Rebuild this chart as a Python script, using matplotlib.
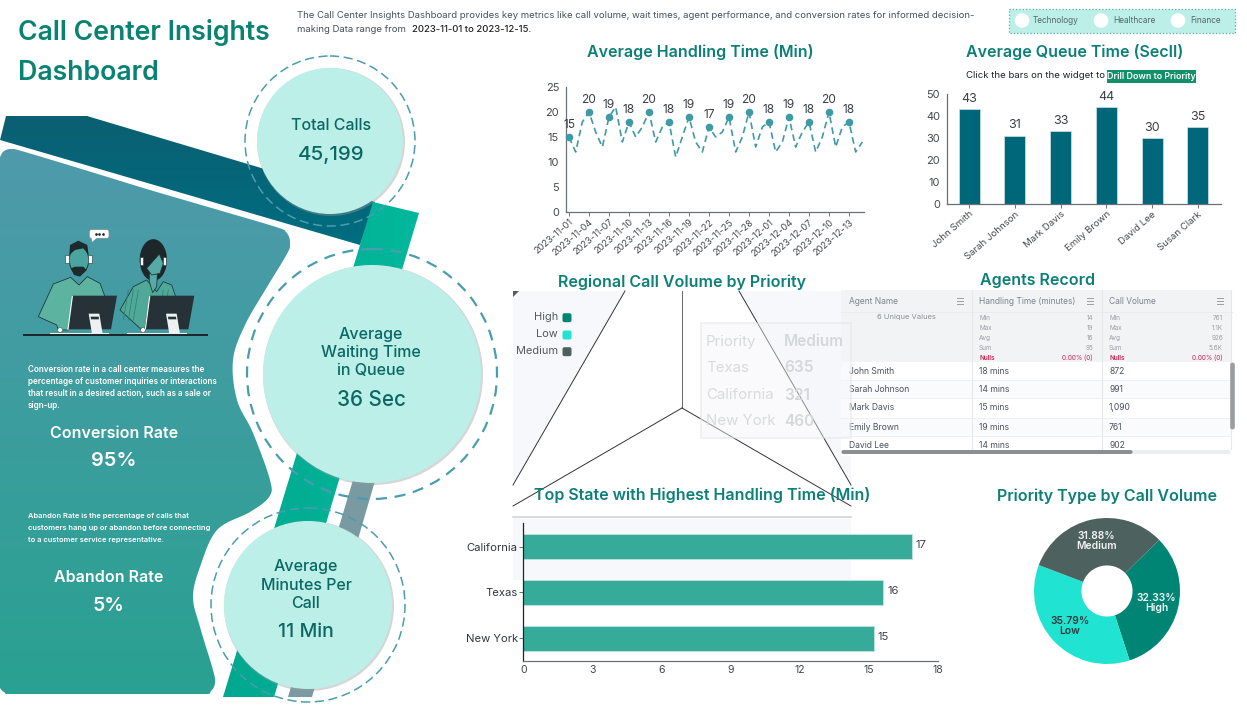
import numpy as np
import matplotlib
matplotlib.use('Agg')
from matplotlib import pyplot as plt
from matplotlib.patches import Circle, Polygon, Rectangle, FancyBboxPatch, Ellipse
from matplotlib.colors import LinearSegmentedColormap

plt.rcParams['font.family'] = ['Inter', 'DejaVu Sans']

W, H = 1247, 707

# data
line_dates = ['2023-11-01', '2023-11-04', '2023-11-07', '2023-11-10', '2023-11-13',
              '2023-11-16', '2023-11-19', '2023-11-22', '2023-11-25', '2023-11-28',
              '2023-12-01', '2023-12-04', '2023-12-07', '2023-12-10', '2023-12-13']
handling = [15, 12, 18, 20, 16, 13, 19, 21, 14, 18, 15, 17, 20, 14, 17, 18, 11, 15, 19, 14, 12, 17, 15,
            16, 19, 12, 15, 20, 13, 17, 18, 12, 14, 19, 13, 16, 18, 12, 15, 20, 13, 17, 18, 12, 14]

agents = ['John Smith', 'Sarah Johnson', 'Mark Davis', 'Emily Brown', 'David Lee', 'Susan Clark']
queue_time = [43, 31, 33, 44, 30, 35]

states = ['California', 'Texas', 'New York']
state_time = [16.87, 15.63, 15.22]

priorities = ['High', 'Low', 'Medium']
priority_share = [32.33, 35.79, 31.88]
priority_colors = ['#008575', '#20e3d2', '#4d625e']

tooltip_rows = [('Priority', 'Medium'), ('Texas', '635'), ('California', '321'), ('New York', '460')]

table_names = ['John Smith', 'Sarah Johnson', 'Mark Davis', 'Emily Brown', 'David Lee']
table_time = ['18 mins', '14 mins', '15 mins', '19 mins', '14 mins']
table_volume = ['872', '991', '1,090', '761', '902']
time_stats = [('Min', '14'), ('Max', '19'), ('Avg', '16'), ('Sum', '95')]
volume_stats = [('Min', '761'), ('Max', '1.1K'), ('Avg', '926'), ('Sum', '5.6K')]

TITLE = '#0c8078'
CIRC = '#bcefe8'
CTEXT = '#0b6763'
DASH = '#4a9db0'


def px(size):
    return size * 0.72


def ax_px(x0, y0, x1, y1):
    a = fig.add_axes([x0 / W, 1 - y1 / H, (x1 - x0) / W, (y1 - y0) / H])
    a.patch.set_alpha(0)
    return a


def smooth(points, n=14):
    # catmull-rom through the outline points
    p = np.array(points, dtype=float)
    p = np.vstack([p[0], p, p[-1]])
    out = []
    for i in range(1, len(p) - 2):
        for t in np.linspace(0, 1, n, endpoint=False):
            out.append(0.5 * (2 * p[i] + (p[i + 1] - p[i - 1]) * t
                              + (2 * p[i - 1] - 5 * p[i] + 4 * p[i + 1] - p[i + 2]) * t ** 2
                              + (3 * p[i] - p[i - 1] - 3 * p[i + 1] + p[i + 2]) * t ** 3))
    out.append(p[-2])
    return np.array(out)


def grad_fill(points, c1, c2, box, vertical=True, z=1):
    cm = LinearSegmentedColormap.from_list('g', [c1, c2])
    g = np.linspace(0, 1, 200)
    g = g[:, None] if vertical else g[None, :]
    im = bg.imshow(g, cmap=cm, extent=(box[0], box[2], box[3], box[1]), aspect='auto', zorder=z)
    poly = Polygon(points, closed=True, transform=bg.transData, fc='none', ec='none')
    bg.add_patch(poly)
    im.set_clip_path(poly)
    bg.set_xlim(0, W)
    bg.set_ylim(H, 0)


fig = plt.figure(figsize=(W / 100, H / 100), dpi=100, facecolor='white')
bg = fig.add_axes([0, 0, 1, 1])
bg.set_xlim(0, W)
bg.set_ylim(H, 0)
bg.axis('off')

# ribbons behind the circles
grad_fill([(6, 116), (87, 116), (375, 202), (360, 245), (0, 140)], '#0b5f72', '#006d80', (0, 116, 375, 245), z=1)
grad_fill([(373, 202), (419, 213), (274, 697), (223, 697)], '#00a88f', '#03b89c', (223, 202, 419, 697), vertical=False, z=2)
bg.add_patch(Polygon([(362, 450), (384, 450), (312, 697), (288, 697)], fc='#7a9aa2', ec='none', zorder=2))

# left panel
outline = [(0, 157), (4, 151), (12, 149), (25, 152), (88, 171), (150, 190), (215, 209), (276, 227), (286, 232), (290, 241), (288, 252),
           (267, 287), (245, 325), (233, 360), (237, 400), (253, 433), (270, 480), (269, 497), (250, 512), (217, 530), (200, 567),
           (193, 597), (200, 627), (213, 670), (215, 683), (211, 691), (203, 694.5), (150, 694.5), (80, 694.5), (14, 694.5), (4, 692), (0, 688)]
grad_fill(smooth(outline), '#4f9aab', '#29a191', (0, 149, 290, 694), z=3)


def z4(pts):
    return [(x / 3, 100 + y / 3) for x, y in pts]


def shape(pts, fc, ec='none', lw=0.6, z=5):
    bg.add_patch(Polygon(z4(pts), closed=True, fc=fc, ec=ec, lw=lw, zorder=z))


# illustration of the two agents
OUT = '#1f3a3c'
shape([(115, 650), (160, 552), (212, 532), (237, 555), (262, 530), (300, 550), (315, 590), (220, 590), (205, 690), (175, 690), (170, 675)], '#5cb3a0', OUT)
shape([(360, 630), (400, 560), (440, 540), (470, 575), (490, 545), (515, 555), (527, 590), (450, 590), (435, 685), (420, 685)], '#4fa898', OUT)
for sx in (385, 400, 415, 490, 505):
    bg.plot([sx / 3, (sx - 15) / 3], [100 + 570 / 3, 100 + 660 / 3], color='#2f7d70', lw=0.5, zorder=6)
# man
bg.add_patch(Ellipse((237 / 3, 100 + 480 / 3), 58 / 3, 85 / 3, fc='#4ba59f', ec=OUT, lw=0.7, zorder=6))
shape([(208, 465), (210, 435), (235, 422), (262, 435), (266, 465), (250, 445), (225, 450)], '#1d2b2d', z=7)
shape([(212, 505), (225, 500), (250, 500), (260, 510), (240, 530), (222, 525)], '#1d2b2d', z=7)
bg.add_patch(Rectangle((196 / 3, 100 + 465 / 3), 10 / 3, 24 / 3, fc='#f4f6f6', ec=OUT, lw=0.4, zorder=8))
bg.add_patch(Rectangle((265 / 3, 100 + 465 / 3), 10 / 3, 24 / 3, fc='#f4f6f6', ec=OUT, lw=0.4, zorder=8))
bg.add_patch(FancyBboxPatch((270 / 3, 100 + 391 / 3), 55 / 3, 22 / 3, boxstyle='round,pad=0.6,rounding_size=2', fc='white', ec='#888888', lw=0.4, zorder=8))
shape([(275, 414), (290, 414), (276, 426)], 'white', z=8)
bg.plot([288 / 3, 298 / 3, 308 / 3], [100 + 403 / 3] * 3, ls='none', marker='o', ms=0.9, color='#222222', zorder=9)
# woman
bg.add_patch(Ellipse((460 / 3, 100 + 480 / 3), 82 / 3, 125 / 3, fc='#1d2629', ec='none', zorder=6))
shape([(440, 505), (478, 462), (490, 490), (480, 520), (455, 525)], '#57aaa5', OUT, z=7)
shape([(448, 520), (472, 522), (470, 560), (458, 578), (448, 545)], '#57aaa5', OUT, z=6)
bg.add_patch(Rectangle((419 / 3, 100 + 470 / 3), 9 / 3, 24 / 3, fc='#f4f6f6', ec=OUT, lw=0.4, zorder=8))
bg.add_patch(Rectangle((489 / 3, 100 + 470 / 3), 9 / 3, 24 / 3, fc='#f4f6f6', ec=OUT, lw=0.4, zorder=8))
# monitors and desk
for off in (0, 232):
    shape([(218 + off, 587), (351 + off, 587), (333 + off, 688), (204 + off, 688)], '#263238', z=9)
    bg.plot([(217 + off) / 3, (204 + off) / 3], [100 + 590 / 3, 100 + 688 / 3], color='white', lw=0.8, zorder=10)
    shape([(266 + off, 641), (298 + off, 641), (308 + off, 702), (276 + off, 702)], '#eef1f1', z=10)
    shape([(272 + off, 650), (296 + off, 650), (297 + off, 658), (273 + off, 658)], '#263238', z=11)
bg.add_patch(Rectangle((150 / 3, 100 + 698 / 3), 177 / 3, 6 / 3, fc='#eef1f1', zorder=9))
bg.add_patch(Rectangle((381 / 3, 100 + 698 / 3), 180 / 3, 6 / 3, fc='#eef1f1', zorder=9))
bg.add_patch(Rectangle((68 / 3, 100 + 703 / 3), 556 / 3, 6 / 3, fc='#1d2629', zorder=10))
bg.add_patch(Circle((60, 330), 2.4, fc='white', ec=OUT, lw=0.3, zorder=11))
bg.add_patch(Circle((143, 330), 2.4, fc='white', ec=OUT, lw=0.3, zorder=11))

# circles
for (cx, cy, r, rd, dlw, dash) in [(330, 141, 73, 85, 1.1, (6, 3)), (372, 374, 109, 125, 1.6, (5, 3.5)), (308, 605, 84, 97, 1.1, (6, 3))]:
    bg.add_patch(Circle((cx + 1, cy + 1), r + 1, fc='#9a9a9a', ec='none', alpha=0.4, zorder=12))
    bg.add_patch(Circle((cx, cy), r, fc=CIRC, ec='none', zorder=13))
    bg.add_patch(Circle((cx, cy), rd, fc='none', ec=DASH, lw=dlw, ls=(0, dash), zorder=14))


def label(x, y, s, size, color=CTEXT, weight='medium', ha='center', z=20):
    return bg.text(x, y + 1, s, fontsize=px(size), color=color, fontweight=weight, ha=ha, va='center', zorder=z)


label(331, 125, 'Total Calls', 16)
label(331, 154, '45,199', 20.5)
for yy, s in zip((334, 352, 370), ('Average', 'Waiting Time', 'in Queue')):
    label(371, yy, s, 16)
label(371, 399, '36 Sec', 20.6)
for yy, s in zip((566, 585, 603), ('Average', 'Minutes Per', 'Call')):
    label(306, yy, s, 16)
label(306, 631, '11 Min', 19.5)

# left panel text
para1 = ['Conversion rate in a call center measures the', 'percentage of customer inquiries or interactions',
         'that result in a desired action, such as a sale or', 'sign-up.']
para2 = ['Abandon Rate is the percentage of calls that', 'customers hang up or abandon before connecting',
         'to a customer service representative.']
for yy, s in zip((369, 381, 393, 405), para1):
    label(28, yy, s, 8.1, 'white', 'semibold', 'left')
for yy, s in zip((515, 527, 539), para2):
    label(28, yy, s, 7.5, 'white', 'semibold', 'left')
label(114, 432, 'Conversion Rate', 16, 'white', 'semibold')
label(114, 460, '95%', 20, 'white', 'semibold')
label(109, 577, 'Abandon Rate', 16, 'white', 'semibold')
label(109, 605, '5%', 19.5, 'white', 'semibold')

# header
label(18, 32, 'Call Center Insights', 26.7, '#088371', 'semibold', 'left')
label(18, 72, 'Dashboard', 26.7, '#088371', 'semibold', 'left')
label(297, 15, 'The Call Center Insights Dashboard provides key metrics like call volume, wait times, agent performance, and conversion rates for informed decision-',
      9.54, '#45505a', 'normal', 'left')
label(297, 29, 'making Data range from', 9.54, '#45505a', 'normal', 'left')
label(412, 29, '2023-11-01 to 2023-12-15.', 9.54, '#222222', 'medium', 'left')

# radio group
bg.add_patch(Rectangle((1009, 9), 226, 24, fc=CIRC, ec='#58b0a8', lw=0.9, ls=':', zorder=2))
for cx, tx, s in zip((1022, 1101, 1178), (1033, 1113, 1190), ('Technology', 'Healthcare', 'Finance')):
    bg.add_patch(Circle((cx, 20.5), 7.3, fc='white', ec='none', zorder=3))
    label(tx, 19.5, s, 8.3, '#56666a', 'normal', 'left')

# section titles
label(700, 51, 'Average Handling Time (Min)', 16, TITLE, 'semibold')
label(1075, 51, 'Average Queue Time (SecII)', 16, TITLE, 'semibold')
label(682, 281, 'Regional Call Volume by Priority', 16, TITLE, 'semibold')
label(1038, 280, 'Agents Record', 16, TITLE, 'semibold')
label(702, 494, 'Top State with Highest Handling Time (Min)', 16, TITLE, 'semibold', z=30)
label(1107, 495, 'Priority Type by Call Volume', 16, TITLE, 'semibold')

label(966, 75, 'Click the bars on the widget to', 9.6, '#1c2430', 'normal', 'left')
bg.add_patch(Rectangle((1107, 70), 89, 12.5, fc='#12906a', ec='none', zorder=3))
label(1151.5, 75.2, 'Drill Down to Priority', 8.9, 'white', 'semibold')

# regional chart: washed-out background, stray lines, legend and tooltip
bg.add_patch(Polygon([(513, 291), (625, 291), (513, 485)], fc='#f6f8fc', ec='none', zorder=1))
bg.add_patch(Polygon([(739, 291), (851, 291), (851, 485)], fc='#f6f8fc', ec='none', zorder=1))
bg.add_patch(Polygon([(513, 291), (519, 291), (513, 297)], fc='#4d625e', ec='none', zorder=2))
bg.add_patch(Rectangle((513, 517), 338, 63, fc='#f6f8fc', ec='none', zorder=1))
bg.plot([513, 851], [516.5, 516.5], color='#d3d5d8', lw=1.2, zorder=2)
for x0, y0, x1, y1, col in [(625, 291, 513, 485, '#333333'), (682, 291, 682, 408, '#666666'), (739, 291, 851, 485, '#333333'),
                            (682, 408, 513, 506, '#333333'), (682, 408, 851, 506, '#333333')]:
    bg.plot([x0, x1], [y0, y1], color=col, lw=0.7, zorder=2)
for yy, s, col in zip((316.7, 334, 350.7), priorities, priority_colors):
    label(558, yy - 1, s, 11, '#555a60', 'normal', 'right')
    bg.add_patch(FancyBboxPatch((563.5, yy - 2.5), 7, 7, boxstyle='round,pad=1,rounding_size=2', fc=col, ec='none', zorder=4))

# tooltip sits over the table, mostly see-through
bg.add_patch(Rectangle((700.5, 322.5), 150, 115.5, fc='#f4f6fa', ec='#dfe1e4', lw=1.3, alpha=0.45, zorder=8))
for yy, (a, b) in zip((341, 367, 394, 420), tooltip_rows):
    label(706, yy, a, 15, '#d8dadd', 'normal', 'left', z=8)
    label(784, yy, b, 15.4, '#d5d8da', 'semibold', 'left', z=8)

# table
bg.add_patch(Rectangle((841, 290), 391, 72, fc='#f1f3f5', ec='none', zorder=5))
bg.add_patch(Rectangle((841, 362), 391, 90, fc='white', ec='none', zorder=5))
bg.plot([841, 1232], [312, 312], color='#e9ebed', lw=0.7, zorder=6)
for xx in (972, 1102, 1231):
    bg.plot([xx, xx], [290, 450], color='#e6e8ea', lw=0.8, zorder=6)
for yy in (380, 398, 418, 436):
    bg.plot([841, 1231], [yy, yy], color='#eef0f2', lw=0.7, zorder=6)
for yy in (380, 418):
    bg.add_patch(Rectangle((841, yy), 390, 18, fc='#fafbfd', ec='none', zorder=5))
for xx, s in zip((849, 979, 1109), ('Agent Name', 'Handling Time (minutes)', 'Call Volume')):
    label(xx, 300, s, 8.4, '#7d8590', 'normal', 'left', z=7)
for xx in (960, 1090, 1220):
    for dy in (-3, 0, 3):
        bg.plot([xx - 3, xx + 3], [301 + dy, 301 + dy], color='#9aa0a6', lw=0.7, zorder=7)
label(906, 316.5, '6 Unique Values', 7.6, '#8a9098', 'normal', z=7)
stat_y = (317, 327, 337, 347)
for left, right, stats in [(979, 1093, time_stats), (1109, 1223, volume_stats)]:
    for yy, (a, b) in zip(stat_y, stats):
        label(left, yy, a, 6.4, '#9aa0a6', 'normal', 'left', z=7)
        label(right, yy, b, 6.4, '#9aa0a6', 'normal', 'right', z=7)
    label(left, 357, 'Nulls', 6.4, '#d11f4f', 'semibold', 'left', z=7)
    label(right, 357, '0.00% (0)', 6.4, '#d11f4f', 'normal', 'right', z=7)
for yy, a, b, c in zip((370, 388, 407, 426, 444), table_names, table_time, table_volume):
    label(849, yy, a, 8.6, '#4b5360', 'normal', 'left', z=7)
    label(979, yy, b, 8.6, '#4b5360', 'normal', 'left', z=7)
    label(1109, yy, c, 8.6, '#4b5360', 'normal', 'left', z=7)
bg.add_patch(Rectangle((841, 449.5), 391, 6, fc='white', ec='none', zorder=8))
bg.add_patch(FancyBboxPatch((842, 450.5), 388, 3, boxstyle='round,pad=0.5,rounding_size=2', fc='#eceeef', ec='none', zorder=9))
bg.add_patch(FancyBboxPatch((842, 450.5), 290, 3, boxstyle='round,pad=0.5,rounding_size=2', fc='#8c8f92', ec='none', zorder=10))
bg.add_patch(FancyBboxPatch((1230.5, 363), 4, 66, boxstyle='round,pad=0.3,rounding_size=2', fc='#9a9da0', ec='none', zorder=9))

AXC = '#6b7075'
TK = '#44484d'


def style(a):
    for s in ('top', 'right'):
        a.spines[s].set_visible(False)
    for s in ('left', 'bottom'):
        a.spines[s].set_color(AXC)
        a.spines[s].set_linewidth(0.9)


# line chart
ax = ax_px(566, 87, 864, 212)
days = np.arange(len(handling))
ax.plot(days, handling, color='#3f9aa5', lw=1.2, ls=(0, (4, 2.5)))
ax.scatter(days[::3], np.array(handling)[::3], s=20, color='#3f9aa5', zorder=3, clip_on=False)
for d in days[::3]:
    ax.annotate(str(handling[d]), (d, handling[d]), xytext=(0, 4), textcoords='offset points',
                ha='center', va='bottom', fontsize=px(12), color='#3c4045', annotation_clip=False)
ax.set_xlim(-0.45, 44.25)
ax.set_ylim(0, 25)
ax.set_yticks(range(0, 26, 5))
ax.set_xticks(days[::3])
ax.set_xticklabels(line_dates, rotation=41, ha='right', rotation_mode='anchor', fontsize=px(9.2), color=TK)
ax.tick_params(axis='y', length=0, labelsize=px(11), labelcolor=TK, pad=5)
ax.tick_params(axis='x', length=3, width=0.7, color=AXC, pad=1)
style(ax)

# queue time bars
ax = ax_px(947, 94, 1221, 204)
ax.bar(range(len(agents)), queue_time, width=0.46, color='#00667a', edgecolor='#cfe3e6', linewidth=0.5)
for i, v in enumerate(queue_time):
    ax.text(i, v + 2, str(v), ha='center', va='bottom', fontsize=px(12.5), color='#3c4045')
ax.set_xlim(-0.488, 5.51)
ax.set_ylim(0, 50)
ax.set_xticks(range(len(agents)))
ax.set_xticklabels(agents, rotation=41, ha='right', rotation_mode='anchor', fontsize=px(9.6), color=TK)
ax.tick_params(axis='y', length=0, labelsize=px(11), labelcolor=TK, pad=5)
ax.tick_params(axis='x', length=3, width=0.7, color=AXC, pad=1)
style(ax)

# state bars
ax = ax_px(523.3, 523, 938, 661)
ax.barh(range(len(states)), state_time, height=0.55, color='#36ab9a', edgecolor='#bfe5df', linewidth=0.6)
for i, v in enumerate(state_time):
    ax.text(v + 0.16, i - 0.03, str(round(v)), va='center', ha='left', fontsize=px(11.3), color='#3c4045')
ax.set_xlim(0, 18)
ax.set_ylim(2.5, -0.52)
ax.set_xticks(range(0, 19, 3))
ax.set_yticks(range(len(states)))
ax.set_yticklabels(states, fontsize=px(11.2), color='#33373b')
ax.tick_params(axis='x', length=0, labelsize=px(10.5), labelcolor=TK, pad=3)
ax.tick_params(axis='y', length=3, width=0.7, color=AXC, pad=1)
style(ax)
ax.spines['left'].set_color('#222222')

# priority donut
ax = ax_px(1107 - 73, 591 - 73, 1107 + 73, 591 + 73)
wedges, _ = ax.pie(priority_share, colors=priority_colors, startangle=44.4, counterclock=False, radius=1,
                   wedgeprops={'width': 0.65})
for w, name, v in zip(wedges, priorities, priority_share):
    ang = np.radians((w.theta1 + w.theta2) / 2)
    ax.text(0.70 * np.cos(ang), 0.70 * np.sin(ang), f'{v:.2f}%\n{name}', ha='center', va='center', linespacing=1.0,
            fontsize=px(10.3), fontweight='semibold', color='#2c3a3a' if name == 'Low' else '#f2f5f5')
ax.set_xlim(-1, 1)
ax.set_ylim(-1, 1)

fig.savefig('out.png', dpi=100)
